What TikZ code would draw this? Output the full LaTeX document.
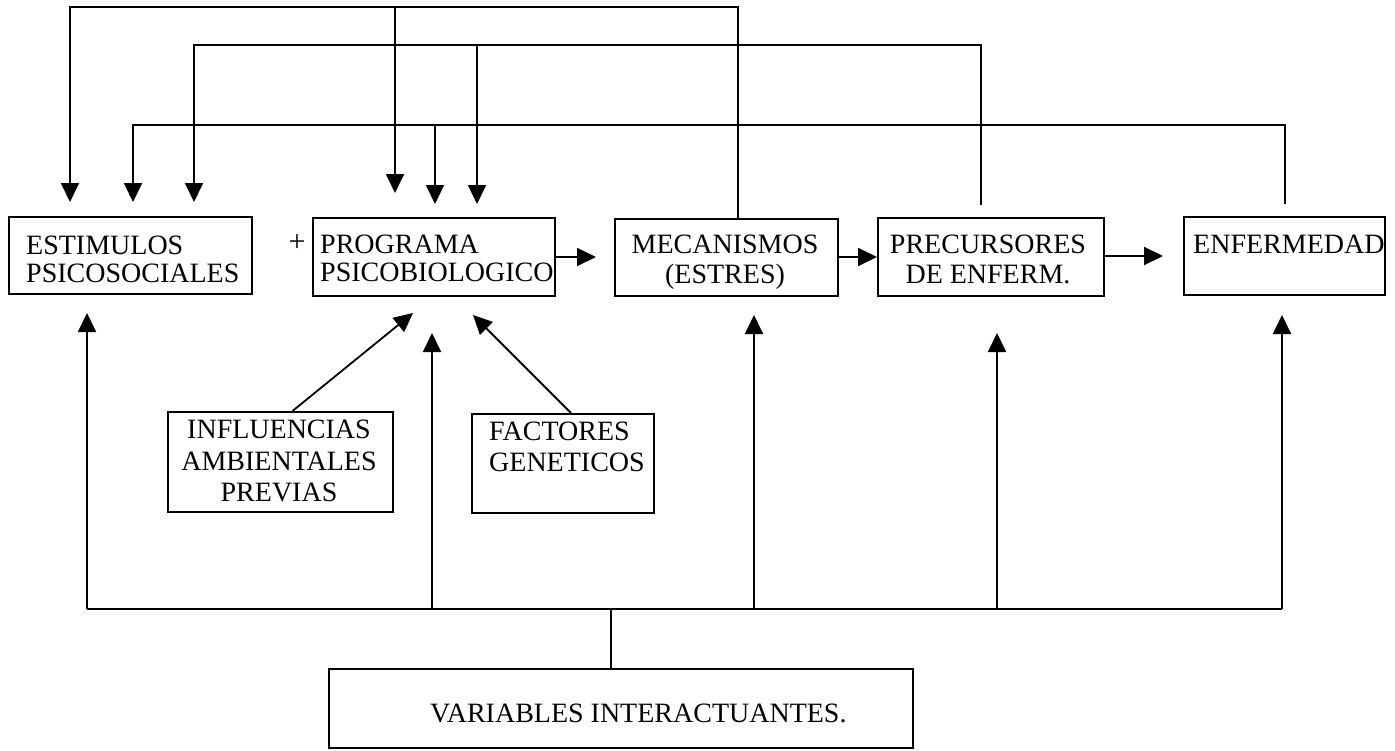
\documentclass[tikz,border=0pt]{standalone}
\usepackage{fontspec}
\setmainfont{Liberation Serif}
\usetikzlibrary{arrows.meta}
\begin{document}
\begin{tikzpicture}[x=1pt,y=-1pt,
  box/.style={draw, line width=2pt, inner sep=0pt, anchor=north west},
  txt/.style={inner sep=0pt, font=\fontsize{28}{30}\selectfont},
  conn/.style={line width=1.8pt},
  arr/.style={conn, -{Triangle[length=19pt,width=18pt]}},
]
\path[use as bounding box, fill=white] (0,0) rectangle (1395,750);

% boxes
\node[box, minimum width=243pt, minimum height=77pt] (est) at (8,216) {};
\node[box, minimum width=242pt, minimum height=78pt] (prog) at (312,217) {};
\node[box, minimum width=223pt, minimum height=77pt] (mec) at (614,218) {};
\node[box, minimum width=226pt, minimum height=78pt] (prec) at (877,217) {};
\node[box, minimum width=201pt, minimum height=78pt] (enf) at (1183,216) {};
\node[box, minimum width=225pt, minimum height=100pt] (infl) at (167,411) {};
\node[box, minimum width=182pt, minimum height=99pt] (fact) at (471,413) {};
\node[box, minimum width=584pt, minimum height=79pt] (var) at (328,668) {};

% texts
\node[txt, anchor=north west, align=left, font=\fontsize{28}{28}\selectfont] (testim) at (26,236) {ESTIMULOS\\PSICOSOCIALES};
\node[txt, anchor=center, font=\fontsize{30}{30}\selectfont] (plus) at (297,243) {+};
\node[txt, anchor=north west, align=left, font=\fontsize{28}{28}\selectfont] (tprog) at (320,235) {PROGRAMA\\PSICOBIOLOGICO};
\node[txt, anchor=north, align=center] (tmec) at (725,235) {MECANISMOS\\(ESTRES)};
\node[txt, anchor=north, align=center] (tprec) at (988,235) {PRECURSORES\\DE ENFERM.};
\node[txt, anchor=north west] (tenf) at (1193,235) {ENFERMEDAD};
\node[txt, anchor=north, align=center, font=\fontsize{28}{31.5}\selectfont] (tinfl) at (279,420) {INFLUENCIAS\\AMBIENTALES\\PREVIAS};
\node[txt, anchor=north west, align=left, font=\fontsize{28}{31}\selectfont] (tfact) at (489,422) {FACTORES\\GENETICOS};
\node[txt, anchor=north west] (tvar) at (430,704) {VARIABLES INTERACTUANTES.};

% main chain
\coordinate (hp) at (596,257);
\coordinate (he) at (1163,256);
\draw[arr] (prog.east |- hp) -- (hp);
\draw[arr] (mec.east |- hp) -- (prec.west |- hp);
\draw[arr] (prec.east |- he) -- (he);

% feedback line 1 (from MECANISMOS)
\coordinate (l1R) at (738,7);
\coordinate (l1L) at (70,7);
\coordinate (a1) at (70,202);
\coordinate (b1) at (395,7);
\coordinate (a4) at (395,193);
\draw[arr] (mec.north -| l1R) -- (l1R) -- (l1L) -- (a1);
\draw[arr] (b1) -- (a4);

% feedback line 2 (from PRECURSORES)
\coordinate (p2) at (981,205);
\coordinate (l2R) at (981,45);
\coordinate (l2L) at (194,45);
\coordinate (a3) at (194,202);
\coordinate (b2) at (477,45);
\coordinate (a6) at (477,204);
\draw[arr] (p2) -- (l2R) -- (l2L) -- (a3);
\draw[arr] (b2) -- (a6);

% feedback line 3 (from ENFERMEDAD)
\coordinate (p3) at (1285,204);
\coordinate (l3R) at (1285,125);
\coordinate (l3L) at (133,125);
\coordinate (a2) at (133,202);
\coordinate (b3) at (435,125);
\coordinate (a5) at (435,204);
\draw[arr] (p3) -- (l3R) -- (l3L) -- (a2);
\draw[arr] (b3) -- (a5);

% influences into PROGRAMA
\coordinate (d1) at (413,313);
\coordinate (d2) at (473,315);
\draw[arr] ([xshift=12pt]infl.north) -- (d1);
\draw[arr] ([xshift=8pt]fact.north) -- (d2);

% bottom bus from VARIABLES
\coordinate (stem) at (611,609);
\coordinate (busL) at (87,609);
\coordinate (busR) at (1282,609);
\draw[conn] (var.north -| stem) -- (stem);
\draw[conn] (busL) -- (busR);
\coordinate (u1) at (87,313);
\coordinate (u2b) at (432,609);
\coordinate (u2) at (432,333);
\coordinate (u3b) at (754,609);
\coordinate (u3) at (754,315);
\coordinate (u4b) at (997,609);
\coordinate (u4) at (997,333);
\coordinate (u5) at (1282,315);
\draw[arr] (busL) -- (u1);
\draw[arr] (u2b) -- (u2);
\draw[arr] (u3b) -- (u3);
\draw[arr] (u4b) -- (u4);
\draw[arr] (busR) -- (u5);
\end{tikzpicture}
\end{document}
